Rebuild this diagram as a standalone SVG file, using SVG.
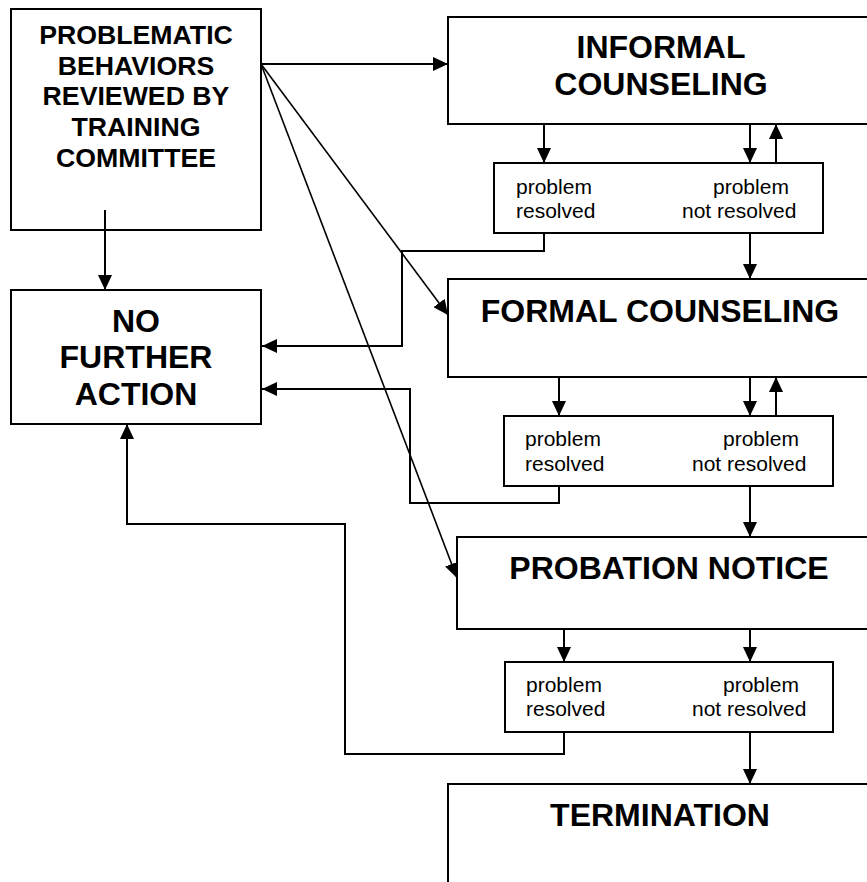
<svg xmlns="http://www.w3.org/2000/svg" width="867" height="882" viewBox="0 0 867 882">
<style>
.box{fill:#fff;stroke:#000;stroke-width:2}
.sbox{fill:#fff;stroke:#000;stroke-width:2}
.h{font-family:"Liberation Sans",Arial,sans-serif;font-weight:bold;fill:#000;text-anchor:middle}
.h1{font-size:26.7px}
.h2{font-size:32px}
.s{font-family:"Liberation Sans",Arial,sans-serif;font-size:21px;fill:#000}
.c{fill:none;stroke:#000;stroke-width:2}
.d{fill:none;stroke:#000;stroke-width:1.6}
</style>
<defs>
<marker id="ah" markerUnits="userSpaceOnUse" markerWidth="16" markerHeight="14" refX="15" refY="7" orient="auto">
<path d="M0,0 L15,7 L0,14 z" fill="#000"/>
</marker>
</defs>
<rect width="867" height="882" fill="#fff"/>
<g id="n-review">
<rect class="box" x="11" y="9" width="250" height="221"/>
<text class="h h1" x="136" y="44">PROBLEMATIC</text>
<text class="h h1" x="136" y="75">BEHAVIORS</text>
<text class="h h1" x="136" y="105">REVIEWED BY</text>
<text class="h h1" x="136" y="136">TRAINING</text>
<text class="h h1" x="136" y="167">COMMITTEE</text>
</g>
<g id="n-nfa">
<rect class="box" x="11" y="290" width="250" height="134"/>
<text class="h h2" x="136" y="332">NO</text>
<text class="h h2" x="136" y="368">FURTHER</text>
<text class="h h2" x="136" y="405">ACTION</text>
</g>
<g id="n-informal">
<rect class="box" x="448" y="17" width="427" height="107"/>
<text class="h h2" x="661" y="58">INFORMAL</text>
<text class="h h2" x="661" y="95">COUNSELING</text>
</g>
<g id="n-result1">
<rect class="sbox" x="494" y="163" width="329" height="70"/>
<text class="s" x="516" y="194">problem</text>
<text class="s" x="516" y="218">resolved</text>
<text class="s" x="713" y="194">problem</text>
<text class="s" x="682" y="218">not resolved</text>
</g>
<g id="n-formal">
<rect class="box" x="448" y="279" width="427" height="98"/>
<text class="h h2" x="660" y="322">FORMAL COUNSELING</text>
</g>
<g id="n-result2">
<rect class="sbox" x="504" y="416" width="329" height="70"/>
<text class="s" x="525" y="446">problem</text>
<text class="s" x="525" y="471">resolved</text>
<text class="s" x="723" y="446">problem</text>
<text class="s" x="692" y="471">not resolved</text>
</g>
<g id="n-probation">
<rect class="box" x="457" y="537" width="420" height="92"/>
<text class="h h2" x="669" y="579">PROBATION NOTICE</text>
</g>
<g id="n-result3">
<rect class="sbox" x="505" y="662" width="328" height="70"/>
<text class="s" x="526" y="692">problem</text>
<text class="s" x="526" y="716">resolved</text>
<text class="s" x="723" y="692">problem</text>
<text class="s" x="692" y="716">not resolved</text>
</g>
<g id="n-termination">
<rect class="box" x="448" y="784" width="427" height="110"/>
<text class="h h2" x="660" y="826">TERMINATION</text>
</g>
<g id="connectors">
<path class="c" d="M105,210 L105,290" marker-end="url(#ah)"/>
<path class="c" d="M261,64 L448,64" marker-end="url(#ah)"/>
<path class="d" d="M261,64 L448,315" marker-end="url(#ah)"/>
<path class="d" d="M261,64 L457,578" marker-end="url(#ah)"/>
<path class="c" d="M544,124 L544,163" marker-end="url(#ah)"/>
<path class="c" d="M750,124 L750,163" marker-end="url(#ah)"/>
<path class="c" d="M776,163 L776,124" marker-end="url(#ah)"/>
<path class="c" d="M544,233 L544,251 L402,251 L402,346 L262,346" marker-end="url(#ah)"/>
<path class="c" d="M750,233 L750,279" marker-end="url(#ah)"/>
<path class="c" d="M559,377 L559,416" marker-end="url(#ah)"/>
<path class="c" d="M750,377 L750,416" marker-end="url(#ah)"/>
<path class="c" d="M776,416 L776,377" marker-end="url(#ah)"/>
<path class="c" d="M559,486 L559,503 L410,503 L410,389 L262,389" marker-end="url(#ah)"/>
<path class="c" d="M750,486 L750,537" marker-end="url(#ah)"/>
<path class="c" d="M564,629 L564,662" marker-end="url(#ah)"/>
<path class="c" d="M750,629 L750,662" marker-end="url(#ah)"/>
<path class="c" d="M564,732 L564,754 L345,754 L345,524 L127,524 L127,424" marker-end="url(#ah)"/>
<path class="c" d="M750,732 L750,784" marker-end="url(#ah)"/>
</g>
</svg>
